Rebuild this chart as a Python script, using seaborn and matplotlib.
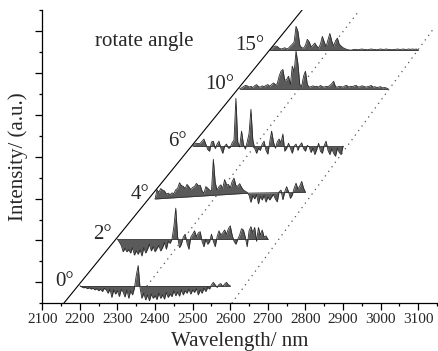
import numpy as np
import pandas as pd
import seaborn as sns
from matplotlib import pyplot as plt
from matplotlib.ticker import MultipleLocator

# angle labels, wavelength span (nm) and baseline offset of each trace
angles = ["0°", "2°", "4°", "6°", "10°", "15°"]
starts = [2200, 2300, 2400, 2500, 2625, 2705]
ends = [2600, 2700, 2800, 2900, 3020, 3100]
baselines = [-0.08, 1.03, 1.99, 3.25, 4.62, 5.54]

# the 4° trace sits on a slightly tilted baseline
tilt4_nm = [2400, 2650, 2800]
tilt4_base = [1.99, 2.13, 2.15]

# relative intensity, sampled every 5 nm
i0 = [0, -0.03, -0.05, -0.04, -0.07, -0.05, -0.08, -0.06, -0.10, -0.07,
      -0.12, -0.08, -0.14, -0.06, -0.10, -0.18, -0.08, -0.28, -0.10, -0.20,
      -0.12, -0.26, -0.09, -0.15, -0.27, -0.10, -0.30, -0.12, -0.22, -0.06,
      0.25, 0.48, -0.05, -0.30, -0.18, -0.34, -0.22, -0.36, -0.20, -0.30,
      -0.24, -0.33, -0.18, -0.30, -0.22, -0.32, -0.16, -0.28, -0.20, -0.26,
      -0.12, -0.24, -0.15, -0.25, -0.10, -0.22, -0.12, -0.18, -0.08, -0.20,
      -0.10, -0.16, -0.07, -0.22, -0.10, -0.18, -0.06, -0.14, -0.04, -0.08,
      0.02, 0.08, 0.02, -0.04, 0.03, 0.05, -0.02, 0.04, 0.08, 0.02, 0]
i2 = [0, -0.07, -0.15, -0.30, -0.22, -0.30, -0.25, -0.33, -0.20, -0.38,
      -0.28, -0.36, -0.25, -0.40, -0.20, -0.33, -0.24, -0.12, -0.28, -0.18,
      -0.30, -0.22, -0.15, -0.28, -0.20, -0.08, -0.24, -0.05, -0.10, 0.00,
      0.30, 0.74, 0.05, -0.20, -0.12, 0.05, 0.12, -0.10, -0.24, 0.05,
      0.12, 0.20, 0.06, 0.15, 0.18, -0.05, -0.18, 0.00, -0.12, -0.06,
      0.12, -0.05, -0.18, 0.06, 0.20, 0.10, 0.15, 0.22, 0.12, 0.25,
      0.32, 0.10, -0.05, -0.12, 0.00, 0.10, 0.25, 0.22, 0.05, -0.18,
      0.20, 0.30, 0.15, 0.28, -0.05, 0.28, 0.10, 0.22, 0.05, 0.08, 0]
i4 = [0, 0.22, 0.15, 0.24, 0.20, 0.18, 0.10, 0.12, 0.08, 0.12,
      0.10, 0.19, 0.22, 0.35, 0.28, 0.26, 0.20, 0.30, 0.24, 0.17,
      0.22, 0.24, 0.31, 0.25, 0.26, 0.12, 0.06, 0.22, 0.18, 0.13,
      0.10, 0.86, 0.30, 0.12, 0.20, 0.24, 0.15, 0.36, 0.22, 0.24,
      0.15, 0.30, 0.38, 0.20, 0.18, 0.24, 0.15, 0.08, 0.05, 0.02,
      -0.05, -0.22, -0.06, -0.14, -0.04, -0.26, -0.08, -0.17, -0.06, -0.22,
      -0.10, -0.17, -0.10, -0.04, -0.15, -0.22, 0.02, 0.06, -0.17, 0.02,
      0.14, 0.02, -0.14, -0.06, 0.10, 0.22, 0.08, 0.15, 0.26, 0.10, 0]
i6 = [0, 0.05, 0.07, 0.06, 0.07, 0.12, 0.17, 0.05, -0.08, -0.12,
      0.10, 0.12, -0.06, 0.05, 0.12, -0.05, -0.17, 0.00, 0.05, -0.05,
      -0.03, 0.08, 0.15, 1.14, 0.10, -0.02, 0.36, 0.05, -0.07, 0.10,
      0.30, 0.88, 0.15, -0.05, -0.17, -0.05, -0.10, 0.05, 0.12, -0.10,
      -0.19, 0.10, 0.36, 0.10, -0.05, 0.10, 0.17, 0.08, 0.29, -0.12,
      -0.05, 0.07, -0.05, -0.17, 0.00, 0.05, -0.10, 0.02, 0.08, -0.06,
      -0.12, 0.02, -0.02, -0.15, -0.05, -0.20, -0.08, 0.07, -0.12, -0.17,
      0.02, 0.12, -0.10, -0.20, -0.06, -0.17, -0.24, -0.05, -0.15, -0.20, 0]
i10 = [0, 0.02, 0.05, 0.08, 0.07, 0.04, 0.06, 0.03, 0.07, 0.10,
       0.05, 0.04, 0.07, 0.05, 0.08, 0.10, 0.06, 0.10, 0.14, 0.10,
       0.12, 0.30, 0.42, 0.46, 0.20, 0.22, 0.30, 0.10, 0.54, 0.40,
       0.90, 0.60, 0.10, 0.05, 0.30, 0.42, 0.10, 0.04, 0.05, 0.07,
       0.05, 0.06, 0.04, 0.08, 0.05, 0.04, 0.06, 0.05, 0.08, 0.12,
       0.18, 0.05, 0.04, 0.06, 0.05, 0.04, 0.07, 0.08, 0.04, 0.06,
       0.05, 0.07, 0.08, 0.04, 0.05, 0.07, 0.06, 0.04, 0.05, 0.06,
       0.08, 0.04, 0.05, 0.03, 0.04, 0.05, 0.02, 0.03, 0.02, 0]
i15 = [0, 0.03, 0.08, 0.10, 0.09, 0.05, 0.03, 0.04, 0.06, 0.03,
       0.05, 0.10, 0.14, 0.20, 0.57, 0.45, 0.12, 0.06, 0.05, 0.12,
       0.26, 0.20, 0.08, 0.12, 0.17, 0.10, 0.05, 0.15, 0.33, 0.20,
       0.08, 0.25, 0.40, 0.22, 0.10, 0.22, 0.29, 0.14, 0.10, 0.06,
       0.04, 0.02, 0.01, 0.00, 0.01, 0.02, 0.02, 0.01, 0.02, 0.03,
       0.02, 0.02, 0.01, 0.02, 0.03, 0.02, 0.02, 0.01, 0.02, 0.03,
       0.02, 0.02, 0.03, 0.02, 0.02, 0.01, 0.02, 0.02, 0.03, 0.02,
       0.02, 0.03, 0.02, 0.02, 0.03, 0.02, 0.03, 0.02, 0.03, 0]
traces = [i0, i2, i4, i6, i10, i15]

# guide lines (wavelength, intensity) end points
solid_nm = [2157, 2793]
solid_y = [-0.5, 6.52]
dot1_nm = [2378, 2940]
dot1_y = [-0.09, 6.45]
dot2_nm = [2604, 3138]
dot2_y = [-0.5, 6.02]

sns.set_theme(style="ticks")
plt.rcParams["font.family"] = ["Liberation Serif", "DejaVu Serif"]

# build a long table of the traces
frames = []
for ang, s, e, b, vals in zip(angles, starts, ends, baselines, traces):
    nm = np.linspace(s, e, len(vals))
    if ang == "4°":
        base = np.interp(nm, tilt4_nm, tilt4_base)
    else:
        base = np.full(len(nm), b)
    frames.append(pd.DataFrame({"nm": nm, "base": base,
                                "y": base + np.array(vals), "angle": ang}))
df = pd.concat(frames, ignore_index=True)

fig = plt.figure(figsize=(4.39, 3.51), dpi=100)
ax = fig.add_axes([0.0964, 0.1359, 0.899, 0.8356])

for ang, sub in df.groupby("angle", sort=False):
    ax.fill_between(sub["nm"], sub["base"], sub["y"], color="#5a5a5a", lw=0)
    ax.plot(sub["nm"], sub["base"], color="#333333", lw=0.6)
sns.lineplot(data=df, x="nm", y="y", units="angle", estimator=None,
             color="#2a2a2a", lw=0.6, ax=ax, sort=False)

ax.plot(solid_nm, solid_y, color="black", lw=0.8)
ax.plot(dot1_nm, dot1_y, color="#555555", lw=0.9, ls=(0, (1, 3.5)))
ax.plot(dot2_nm, dot2_y, color="#555555", lw=0.9, ls=(0, (1, 3.5)))

for ang, s, b in zip(angles, starts, baselines):
    ax.annotate(ang, (s, b), xytext=(-4, 0), textcoords="offset points",
                ha="right", va="baseline", fontsize=15)
ax.text(2240, 5.75, "rotate angle", ha="left", va="center", fontsize=15)

ax.set_xlim(2100, 3150)
ax.set_ylim(-0.5, 6.5)
ax.xaxis.set_major_locator(MultipleLocator(100))
ax.xaxis.set_minor_locator(MultipleLocator(50))
ax.yaxis.set_major_locator(MultipleLocator(1))
ax.yaxis.set_minor_locator(MultipleLocator(0.5))
ax.set_yticklabels([])
ax.tick_params(which="major", direction="out", length=5, width=0.9,
               color="black", labelsize=11, pad=2)
ax.tick_params(which="minor", direction="out", length=2.5, width=0.9,
               color="black")
ax.set_xlabel("Wavelength/ nm", fontsize=15, labelpad=4)
ax.set_ylabel("Intensity/ (a.u.)", fontsize=15, labelpad=3)
for side in ["top", "right"]:
    ax.spines[side].set_visible(False)
for side in ["left", "bottom"]:
    ax.spines[side].set_linewidth(0.9)
    ax.spines[side].set_color("black")

fig.savefig("out.png", dpi=100)
